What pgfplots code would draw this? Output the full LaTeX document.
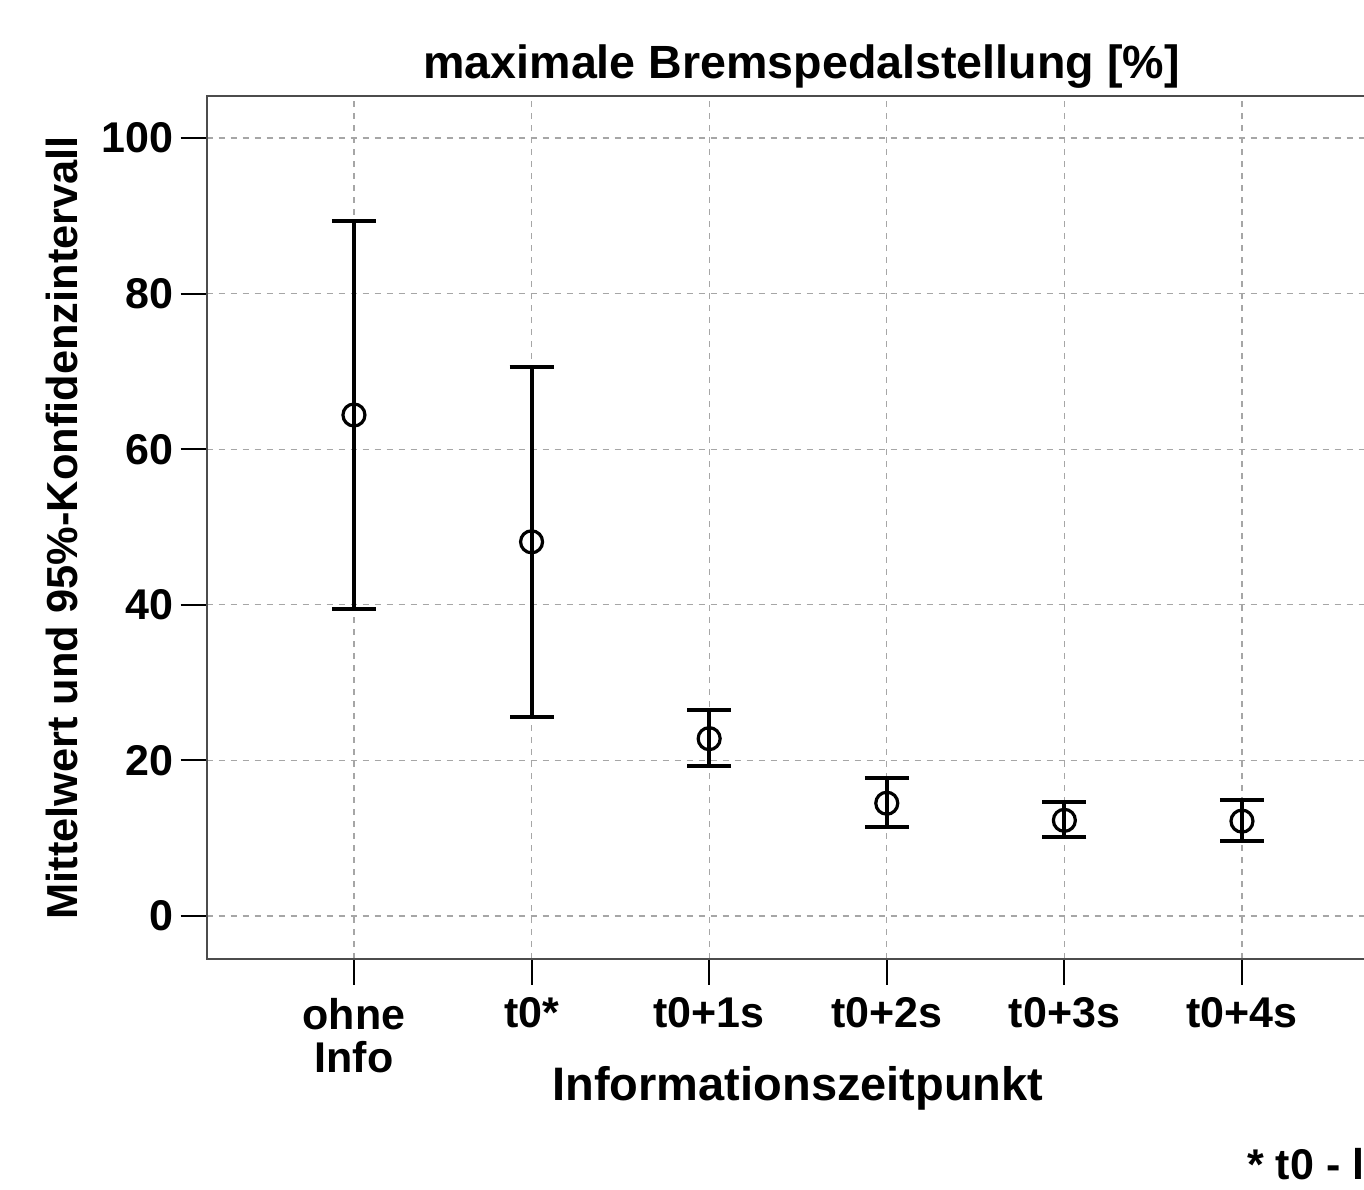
\documentclass[border=0pt]{standalone}
\usepackage{fontspec}
\setmainfont{Liberation Sans}
\usepackage{pgfplots}
\pgfplotsset{compat=1.18}
\usepackage{pgfplotstable}
\pgfplotstableread{
x  m     ep    em
0  64.4  24.9  24.9
1  48.1  22.5  22.5
2  22.8  3.7   3.5
3  14.5  3.2   3.1
4  12.3  2.4   2.1
5  12.2  2.7   2.6
}\datatable
\begin{document}
\begin{tikzpicture}
\begin{axis}[
  x=88.8pt, y=3.89pt,
  xmin=-0.83, xmax=5.83, ymin=-5.5, ymax=105.4,
  axis line style={draw=black!70, line width=1pt},
  tick align=outside, major tick length=13pt,
  tick style={black, line width=1pt},
  xtick={0,1,2,3,4,5},
  xticklabels={ohne\\Info, t0*, t0+1s, t0+2s, t0+3s, t0+4s},
  ytick={0,20,40,60,80,100},
  xtick pos=bottom, ytick pos=left,
  /pgf/number format/assume math mode=true,
  ticklabel style={font=\fontsize{21.5}{21.5}\selectfont\bfseries},
  xticklabel style={align=center, yshift=-3pt},
  grid=major,
  grid style={draw=black!35, dashed, line width=0.6pt},
  clip=false,
  every axis x label/.style={at={(axis cs:2.5,-23.65)}, anchor=base},
  every axis y label/.style={at={(axis cs:-1.644,49.9)}, anchor=center, rotate=90},
  xlabel style={font=\fontsize{23.5}{26}\selectfont\bfseries},
  ylabel style={font=\fontsize{21.7}{24}\selectfont\bfseries},
  xlabel={Informationszeitpunkt},
  ylabel={Mittelwert und 95\%-Konfidenzintervall},
]
\addplot[only marks, black, mark=o, mark size=5.5pt, mark options={line width=1.6pt},
  error bars/.cd, y dir=both, y explicit,
  error bar style={line width=2pt, black},
  error mark options={rotate=90, mark size=11pt, line width=2pt, black}]
  table[x=x, y=m, y error plus=ep, y error minus=em]{\datatable};
\node[anchor=base, font=\fontsize{23.3}{26}\selectfont\bfseries] at (axis cs:2.52,107.7) {maximale Bremspedalstellung [\%]};
\node[anchor=base west, font=\fontsize{21.5}{24}\selectfont\bfseries] at (axis cs:4.99,-33.9) {* t0 - le};
\coordinate (bbtl) at (axis cs:-1.993,117.74);
\coordinate (bbbr) at (axis cs:5.687,-35.09);
\end{axis}
\pgfresetboundingbox
\path[use as bounding box] (bbtl) rectangle (bbbr);
\end{tikzpicture}
\end{document}
